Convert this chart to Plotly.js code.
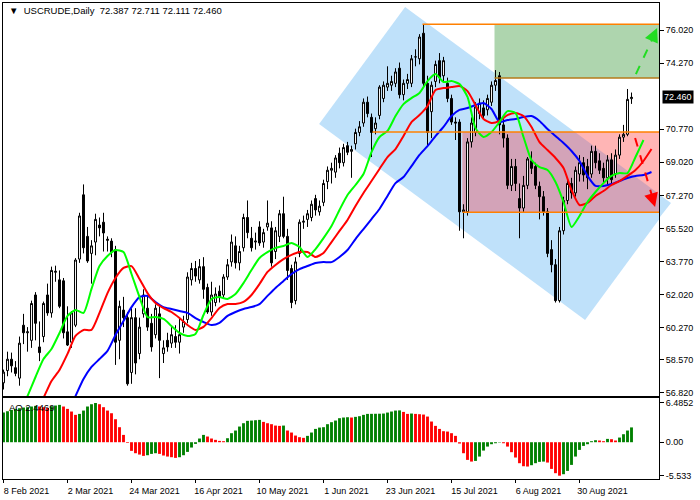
<!DOCTYPE html>
<html>
<head>
<meta charset="utf-8">
<script src="https://cdn.plot.ly/plotly-3.0.1.min.js"></script>
<style>
  html, body { margin: 0; padding: 0; background: #fff; }
  #chart { width: 700px; height: 500px; }
</style>
</head>
<body>
<div id="chart"></div>
<script>
// USCRUDE daily bars, 8 Feb 2021 .. 16 Sep 2021 (one value per trading day)
var opens = [57.35,58.00,58.60,58.15,57.60,60.40,60.00,59.60,62.00,59.25,
  59.80,62.00,61.05,63.20,62.80,62.75,60.05,59.50,60.40,63.90,
  67.30,65.10,64.20,64.80,65.70,65.85,64.95,64.85,64.40,59.60,
  61.20,60.80,57.90,60.80,58.90,61.00,61.30,60.50,59.90,61.00,
  58.90,59.60,59.45,59.80,59.50,60.30,60.70,62.80,63.40,62.80,
  63.50,62.40,61.10,61.60,62.20,62.00,62.95,63.75,64.60,63.70,
  64.50,66.10,65.00,64.80,65.60,64.80,65.60,65.55,64.30,65.10,
  66.30,65.10,63.40,61.70,64.20,65.85,66.00,66.10,67.10,66.40,
  66.90,68.00,68.60,68.50,69.50,69.00,69.90,69.60,70.00,70.60,
  71.10,72.20,71.40,70.80,71.50,72.40,73.00,73.10,73.20,74.00,
  72.60,73.20,73.20,74.60,74.50,75.85,73.20,71.70,73.30,74.40,
  73.60,73.20,72.40,71.15,71.15,66.40,66.40,70.10,70.60,71.60,
  71.90,71.80,72.20,73.10,73.60,71.00,70.30,67.80,68.80,67.10,
  66.60,67.80,69.10,68.80,67.75,67.20,66.40,64.40,63.60,61.70,
  65.40,67.00,67.90,67.40,68.40,69.00,68.80,68.40,69.60,69.10,
  68.70,68.20,69.15,68.40,69.40,70.35,70.50,72.387];
var highs = [58.05,59.00,58.95,58.50,59.80,61.00,60.30,61.70,62.15,60.60,
  61.65,62.60,63.50,63.55,63.30,62.90,61.40,61.15,63.95,66.35,
  67.85,65.60,64.90,66.30,66.10,66.35,65.10,65.00,64.60,61.70,
  61.90,61.10,61.30,61.30,60.80,62.30,62.00,61.00,61.50,61.40,
  59.60,60.00,60.30,60.40,60.80,60.90,63.20,63.70,63.80,63.90,
  64.00,62.60,62.70,62.40,62.50,63.10,63.90,65.20,65.10,64.60,
  66.30,67.00,65.60,65.30,65.90,65.50,67.00,65.90,65.60,66.50,
  67.20,65.50,63.60,64.00,66.00,66.20,66.50,67.00,67.30,67.00,
  68.10,68.80,69.00,69.40,69.80,70.00,70.10,69.90,70.80,71.20,
  72.40,72.50,71.60,71.40,73.10,73.30,74.10,73.60,74.00,74.30,
  73.40,73.70,74.70,75.00,75.80,76.32,73.60,73.30,74.40,74.80,
  74.60,73.50,72.60,71.40,71.30,66.80,70.30,71.40,72.20,72.40,
  72.30,72.60,73.30,73.90,73.80,71.30,70.50,69.20,69.20,67.90,
  68.30,69.30,69.60,69.00,68.00,67.50,66.60,64.90,63.90,65.60,
  67.20,68.10,68.20,68.80,69.40,69.30,69.20,69.90,69.90,69.50,
  69.00,69.40,69.50,69.70,70.50,71.00,72.90,72.711];
var lows = [57.00,57.70,57.90,57.70,57.20,59.40,59.00,59.20,59.60,58.50,
  59.50,60.90,60.80,62.70,61.30,59.70,59.30,59.20,60.30,63.70,
  64.20,63.70,62.60,64.10,65.10,64.30,64.30,64.00,58.30,58.60,
  60.30,57.20,57.30,57.80,58.60,60.80,60.10,59.00,59.70,57.60,
  58.40,59.00,59.20,59.20,58.90,60.00,60.50,62.50,62.70,62.60,
  61.80,61.00,60.90,61.40,61.60,61.80,62.80,63.50,63.40,63.30,
  64.30,65.00,64.30,64.40,64.60,64.50,65.40,63.50,63.90,64.80,
  65.00,62.80,61.30,61.50,64.00,65.50,65.60,65.90,66.20,66.20,
  66.70,67.60,67.90,68.20,68.70,68.80,69.40,68.20,69.70,70.40,
  70.90,71.40,69.30,70.50,71.30,72.20,72.80,72.80,73.00,72.40,
  72.30,72.90,73.00,74.10,74.20,73.00,69.90,70.30,73.00,73.20,
  73.30,72.20,71.00,70.20,65.40,65.00,66.20,69.80,70.40,71.30,
  71.30,71.50,72.00,72.80,70.50,69.80,67.60,67.50,67.50,65.00,
  66.40,67.60,68.40,67.60,66.00,66.20,64.00,63.20,61.60,61.60,
  65.20,66.80,67.10,67.20,68.00,68.00,67.60,68.20,68.70,68.40,
  67.90,67.80,67.80,68.20,69.20,70.10,70.40,72.111];
var closes = [57.92,58.60,58.25,57.85,59.45,60.00,60.05,61.55,60.50,58.95,
  61.55,61.05,63.30,63.25,61.40,60.00,59.35,61.05,63.85,66.18,
  64.50,63.80,64.60,66.00,65.55,65.28,64.90,64.27,59.50,61.40,
  60.80,57.30,60.80,58.40,60.30,62.00,60.30,59.25,61.30,59.60,
  59.20,59.25,59.90,59.50,59.90,60.60,62.95,63.40,63.00,63.50,
  62.30,61.10,62.00,62.05,61.90,62.95,63.60,64.80,63.70,64.30,
  66.10,65.30,64.50,64.85,64.75,65.30,65.80,63.70,65.40,66.30,
  65.10,63.30,61.60,63.75,65.85,65.90,66.30,66.80,66.50,66.70,
  67.90,68.60,68.70,69.25,69.00,69.80,69.55,69.70,70.60,70.90,
  72.20,71.60,70.60,71.10,73.00,73.10,73.20,73.30,73.80,72.60,
  73.20,73.40,74.50,74.60,75.65,73.20,70.60,73.10,74.20,73.50,
  74.40,72.40,71.15,71.10,66.40,66.50,70.10,71.10,71.95,72.15,
  71.50,72.40,73.10,73.35,71.00,70.30,67.80,68.80,67.90,66.60,
  67.80,69.20,68.70,67.80,67.20,66.40,64.20,63.60,61.70,65.40,
  67.00,67.90,67.40,68.60,69.00,68.35,68.20,69.60,69.00,68.60,
  68.20,69.15,68.10,69.40,70.35,70.50,72.35,72.46];

// moving averages, read every second bar (bar 0, 2, 4, ...)
var maGreen = [53.74,54.75,55.70,56.65,57.66,58.61,59.14,59.99,60.89,61.21,
  61.05,62.32,63.53,64.06,64.38,64.27,63.11,61.89,60.83,60.83,
  60.73,60.36,59.99,59.83,59.94,60.94,61.79,61.89,61.79,62.05,
  62.63,63.32,63.96,64.27,64.49,64.59,64.75,64.54,64.01,64.43,
  65.01,65.65,66.50,67.29,67.82,68.40,69.56,70.36,70.68,71.47,
  72.10,72.42,72.69,73.32,73.69,73.27,73.32,73.16,72.48,70.83,
  70.36,70.62,71.15,71.73,71.63,70.36,69.14,68.77,68.61,67.98,
  66.92,65.60,66.18,66.92,67.45,67.92,68.30,68.45,68.45,69.30,
  70.20];
var maRed = [52.10,53.00,53.90,54.75,55.65,56.55,57.45,58.03,58.88,59.83,
  60.15,60.15,61.05,62.10,62.90,63.43,63.53,62.85,62.10,61.58,
  61.31,61.10,60.78,60.41,60.15,60.31,60.78,61.31,61.52,61.52,
  61.63,62.00,62.58,63.22,63.59,63.90,64.12,64.27,64.27,64.01,
  64.22,64.80,65.39,65.97,66.71,67.40,68.03,68.67,69.30,69.72,
  70.41,71.15,71.52,72.00,72.85,72.95,73.00,73.06,72.79,72.05,
  71.31,71.10,71.21,71.52,71.63,71.47,70.89,70.09,69.67,69.25,
  68.72,67.55,66.76,66.87,67.24,67.50,67.82,68.03,68.30,68.61,
  69.09,69.72];
var maBlue = [48.67,49.56,50.41,51.31,52.21,53.11,54.01,54.86,55.76,56.65,
  57.55,58.19,58.61,59.04,59.88,60.62,61.36,61.89,61.95,61.63,
  61.36,61.26,61.15,61.05,60.78,60.57,60.41,60.52,60.89,61.10,
  61.26,61.36,61.52,61.95,62.37,62.74,63.11,63.37,63.53,63.69,
  63.74,63.74,64.01,64.38,64.96,65.49,66.02,66.55,67.24,67.92,
  68.24,68.82,69.41,69.88,70.41,70.89,71.47,71.79,71.89,72.05,
  72.16,71.84,71.15,71.26,71.31,71.42,71.47,71.21,70.78,70.41,
  70.04,69.62,69.09,68.30,67.77,67.77,67.87,68.03,68.19,68.30,
  68.35,68.51];

// Awesome Oscillator, one value per bar
var aoValues = [4.90,5.12,5.34,5.51,5.62,5.73,5.79,5.90,6.01,5.90,
  5.79,5.67,5.95,6.06,6.17,5.90,5.51,5.07,4.52,4.68,
  5.23,5.90,6.28,6.4852,6.28,5.79,5.23,4.79,3.80,2.48,
  1.21,-0.11,-1.43,-1.82,-2.04,-2.26,-2.15,-1.93,-1.82,-1.93,
  -2.20,-2.37,-2.48,-2.59,-2.48,-2.15,-1.60,-0.88,-0.28,0.61,
  1.21,0.94,0.61,0.39,0.22,0.17,0.66,1.49,1.93,2.59,
  3.14,3.53,3.58,3.64,3.69,3.36,3.14,2.98,2.75,2.70,
  2.75,1.93,1.60,1.10,0.83,0.72,1.05,1.60,2.20,2.42,
  2.48,2.98,3.31,3.58,3.97,4.08,4.13,4.08,4.19,4.30,
  4.52,4.68,4.69,4.70,4.71,4.74,4.90,5.07,5.23,5.26,
  5.01,4.68,4.74,4.68,4.63,4.57,4.24,3.42,2.70,2.20,
  1.82,1.76,1.49,1.05,-0.22,-1.82,-2.92,-3.20,-3.09,-2.37,
  -1.38,-0.72,-0.33,-0.17,-0.06,-0.17,-0.72,-1.65,-2.53,-3.47,
  -3.97,-4.02,-3.80,-3.47,-3.25,-3.20,-3.36,-4.41,-5.12,-5.533,
  -5.29,-4.74,-3.75,-2.37,-1.27,-0.61,-0.33,0.17,0.33,0.28,
  0.17,0.55,0.50,0.28,0.77,1.32,1.93,2.4469];

// date labels under the chart, every 16th bar
var tickBars = [0, 16, 32, 48, 64, 80, 96, 112, 128, 144];
var tickLabels = ['8 Feb 2021', '2 Mar 2021', '24 Mar 2021', '16 Apr 2021', '10 May 2021',
  '1 Jun 2021', '23 Jun 2021', '15 Jul 2021', '6 Aug 2021', '30 Aug 2021'];
var priceTicks = [76.02, 74.27, 70.77, 69.02, 67.27, 65.52, 63.77, 62.02, 60.27, 58.57, 56.82];
var aoTicks = [6.4852, 0, -5.533];
var aoTickText = ['6.4852', '0.00', '-5.533'];

// drawn objects: channel corners [bar, price], levels and zones
var channel = [[78.9, 71.05], [100.4, 77.24], [166.9, 66.87], [145.4, 60.68]];
var levelTop = 76.32, levelTopFrom = 104.75;
var levelMid = 73.48, levelMidFrom = 122.75;
var levelUp = 70.62, levelUpFrom = 92.25;
var levelLow = 66.375, levelLowFrom = 114.75;

var FONT = 'Liberation Sans, Arial, sans-serif';
var RIGHT = 163.875;

var bars = closes.map(function (c, i) { return i; });
var every2 = function (arr) { return arr.map(function (v, k) { return k * 2; }); };

var aoColors = aoValues.map(function (v, i) {
  if (i === 0) return '#008000';
  return v >= aoValues[i - 1] ? '#008000' : '#ff0000';
});

// clip a polygon to a box (used for the channel / red zone overlap)
function clipAxis(pts, k, v, keepAbove) {
  var out = [];
  for (var j = 0; j < pts.length; j++) {
    var a = pts[j], b = pts[(j + 1) % pts.length];
    var ina = keepAbove ? a[k] >= v : a[k] <= v;
    var inb = keepAbove ? b[k] >= v : b[k] <= v;
    if (ina) out.push(a);
    if (ina !== inb) {
      var t = (v - a[k]) / (b[k] - a[k]);
      out.push([a[0] + t * (b[0] - a[0]), a[1] + t * (b[1] - a[1])]);
    }
  }
  return out;
}
function toPath(pts) {
  return 'M' + pts.map(function (p) { return p[0] + ',' + p[1]; }).join('L') + 'Z';
}
var overlap = clipAxis(clipAxis(clipAxis(clipAxis(channel, 0, levelLowFrom, true), 0, RIGHT, false),
  1, levelLow, true), 1, levelUp, false);

var traces = [
  {
    type: 'candlestick', x: bars, open: opens, high: highs, low: lows, close: closes,
    xaxis: 'x2', yaxis: 'y2', whiskerwidth: 0, hoverinfo: 'skip',
    increasing: { line: { color: '#000', width: 1 }, fillcolor: '#fff' },
    decreasing: { line: { color: '#000', width: 1 }, fillcolor: '#000' }
  },
  {
    type: 'scatter', mode: 'lines', x: every2(maBlue), y: maBlue, xaxis: 'x2', yaxis: 'y2',
    line: { color: '#0000ff', width: 2, shape: 'spline', smoothing: 0.6 }, hoverinfo: 'skip'
  },
  {
    type: 'scatter', mode: 'lines', x: every2(maRed), y: maRed, xaxis: 'x2', yaxis: 'y2',
    line: { color: '#ff0000', width: 2, shape: 'spline', smoothing: 0.6 }, hoverinfo: 'skip'
  },
  {
    type: 'scatter', mode: 'lines', x: every2(maGreen), y: maGreen, xaxis: 'x2', yaxis: 'y2',
    line: { color: '#00ff00', width: 2, shape: 'spline', smoothing: 0.6 }, hoverinfo: 'skip'
  },
  {
    type: 'bar', x: bars, y: aoValues, width: 0.72, xaxis: 'x', yaxis: 'y',
    marker: { color: aoColors, line: { width: 0 } }, hoverinfo: 'skip'
  }
];

var shapes = [
  { type: 'path', xref: 'x2', yref: 'y2', layer: 'below', path: toPath(channel),
    fillcolor: '#bfe1fa', line: { width: 0 } },
  // the channel tip that pokes past the price scale line
  { type: 'path', xref: 'paper', yref: 'paper', layer: 'below',
    path: 'M1,0.598L1.0183,0.580L1,0.5477Z', fillcolor: '#bfe1fa', line: { width: 0 } },
  { type: 'rect', xref: 'x2', yref: 'y2', layer: 'below', x0: levelLowFrom, x1: RIGHT,
    y0: levelLow, y1: levelUp, fillcolor: '#ffb5b5', line: { width: 0 } },
  { type: 'path', xref: 'x2', yref: 'y2', layer: 'below', path: toPath(overlap),
    fillcolor: '#d3a3b8', line: { width: 0 } },
  { type: 'rect', xref: 'x2', yref: 'y2', layer: 'below', x0: levelMidFrom, x1: RIGHT,
    y0: levelMid, y1: levelTop, fillcolor: '#aed5ae', line: { width: 0 } },
  { type: 'line', xref: 'x2', yref: 'y2', x0: levelTopFrom, x1: RIGHT, y0: levelTop, y1: levelTop,
    line: { color: '#ff8000', width: 1.5 } },
  { type: 'line', xref: 'x2', yref: 'y2', x0: levelMidFrom, x1: RIGHT, y0: levelMid, y1: levelMid,
    line: { color: '#b47a1a', width: 1.5 } },
  { type: 'line', xref: 'x2', yref: 'y2', x0: levelUpFrom, x1: RIGHT, y0: levelUp, y1: levelUp,
    line: { color: '#ff8000', width: 1.5 } },
  { type: 'line', xref: 'x2', yref: 'y2', x0: levelLowFrom, x1: RIGHT, y0: levelLow, y1: levelLow,
    line: { color: '#ff8000', width: 1.5 } },
  // forecast arrows (dashed shafts)
  { type: 'line', xref: 'x2', yref: 'y2', x0: 158.1, y0: 73.69, x1: 163.0, y1: 75.9,
    line: { color: '#22dd22', width: 2, dash: 'dash' } },
  { type: 'line', xref: 'x2', yref: 'y2', x0: 157.9, y0: 70.31, x1: 162.6, y1: 66.9,
    line: { color: '#ff0000', width: 2, dash: 'dash' } }
];

var annotations = [
  { xref: 'paper', yref: 'paper', x: 0.006, y: 0.985, xanchor: 'left', yanchor: 'middle',
    showarrow: false, text: '\u25BC\u00a0 USCRUDE,Daily\u00a0\u00a072.387 72.711 72.111 72.460',
    font: { family: FONT, size: 9.5, color: '#000' } },
  { xref: 'paper', yref: 'paper', x: 0.006, y: 0.151, xanchor: 'left', yanchor: 'middle',
    showarrow: false, text: 'AO 2.4469', font: { family: FONT, size: 9.5, color: '#000' } },
  { xref: 'paper', yref: 'y2', x: 1, y: closes[closes.length - 1], xanchor: 'left', yanchor: 'middle',
    xshift: 3, showarrow: false, text: closes[closes.length - 1].toFixed(3), bgcolor: '#000',
    borderpad: 1, font: { family: FONT, size: 9, color: '#fff' } },
  { xref: 'x2', yref: 'y2', x: 163.4, y: 76.13, text: '', showarrow: true, arrowhead: 2,
    arrowsize: 1.4, arrowwidth: 2, arrowcolor: '#22dd22', ax: -4, ay: 9, standoff: 0 },
  { xref: 'x2', yref: 'y2', x: 162.9, y: 66.65, text: '', showarrow: true, arrowhead: 2,
    arrowsize: 1.4, arrowwidth: 2, arrowcolor: '#ff0000', ax: -3, ay: -10, standoff: 0 }
];

var axisBase = {
  showgrid: false, zeroline: false, showline: true, linecolor: '#000', linewidth: 1,
  mirror: true, ticks: 'outside', ticklen: 4, tickcolor: '#000', automargin: false,
  tickfont: { family: FONT, size: 9, color: '#000' }, fixedrange: true
};

var layout = {
  width: 700, height: 500,
  margin: { l: 3, r: 41, t: 3, b: 21 },
  paper_bgcolor: '#fff', plot_bgcolor: '#fff',
  showlegend: false, dragmode: false,
  xaxis: Object.assign({}, axisBase, {
    anchor: 'y', range: [-0.125, RIGHT], tickmode: 'array', tickvals: tickBars, ticktext: tickLabels,
    ticklen: 3, ticklabelshift: 23, rangeslider: { visible: false }
  }),
  xaxis2: Object.assign({}, axisBase, {
    anchor: 'y2', matches: 'x', showticklabels: false, ticks: '', rangeslider: { visible: false }
  }),
  yaxis: Object.assign({}, axisBase, {
    domain: [0, 0.1702], side: 'right', range: [-6.08, 7.31],
    tickmode: 'array', tickvals: aoTicks, ticktext: aoTickText
  }),
  yaxis2: Object.assign({}, axisBase, {
    domain: [0.1744, 1], side: 'right', range: [56.655, 77.45],
    tickmode: 'array', tickvals: priceTicks,
    ticktext: priceTicks.map(function (v) { return v.toFixed(3); })
  }),
  shapes: shapes,
  annotations: annotations
};

Plotly.newPlot('chart', traces, layout, { displayModeBar: false, staticPlot: true });
</script>
</body>
</html>
